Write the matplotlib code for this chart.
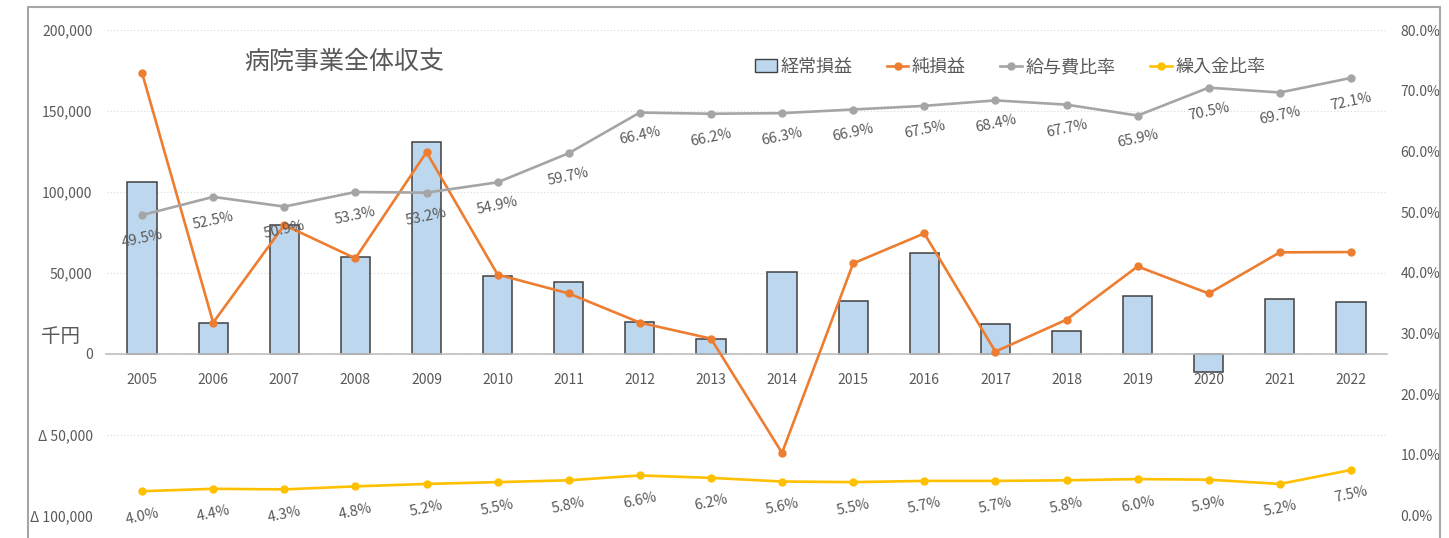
import matplotlib.pyplot as plt
import matplotlib.patches as mpatches
from matplotlib.lines import Line2D
from matplotlib.ticker import FuncFormatter, PercentFormatter
import numpy as np

plt.rcParams['font.family'] = ['Noto Sans CJK JP', 'DejaVu Sans']

# データ (千円 / 比率)
years = ["2005", "2006", "2007", "2008", "2009", "2010", "2011", "2012", "2013",
         "2014", "2015", "2016", "2017", "2018", "2019", "2020", "2021", "2022"]
keijo = [106000, 19200, 79300, 59500, 130700, 48300, 44000, 19800, 9300,
         50200, 32800, 62000, 18600, 14300, 35900, -11100, 33500, 32200]
jun = [173500, 19200, 79500, 58900, 124500, 48900, 37200, 19200, 9300,
       -61300, 55800, 74300, 1300, 21000, 53900, 37200, 62600, 62800]
kyuyo = [49.5, 52.5, 50.9, 53.3, 53.2, 54.9, 59.7, 66.4, 66.2,
         66.3, 66.9, 67.5, 68.4, 67.7, 65.9, 70.5, 69.7, 72.1]
kurire = [4.0, 4.4, 4.3, 4.8, 5.2, 5.5, 5.8, 6.6, 6.2,
          5.6, 5.5, 5.7, 5.7, 5.8, 6.0, 5.9, 5.2, 7.5]

txt = "#595959"
cBar = "#BDD7EE"
cOrange = "#ED7D31"
cGray = "#A5A5A5"
cYellow = "#FFC000"

fig = plt.figure(figsize=(14.49, 5.38), dpi=100)
ax = fig.add_axes([106.5 / 1449, 22.5 / 538, 1280 / 1449, 485.5 / 538])
x = np.arange(len(years))

# 棒グラフ・純損益 (左軸)
ax.bar(x, keijo, width=0.41, color=cBar, edgecolor="#404040", linewidth=1.1, zorder=2)
ax.plot(x, jun, color=cOrange, lw=1.9, marker="o", ms=5, zorder=3)

ax.set_xlim(-0.5, len(years) - 0.5)
ax.set_ylim(-100000, 200000)
ax.set_yticks([-100000, -50000, 0, 50000, 100000, 150000, 200000])
ax.yaxis.set_major_formatter(FuncFormatter(
    lambda v, p: f"{v:,.0f}" if v >= 0 else f"Δ {abs(v):,.0f}"))
ax.set_xticks(x)
ax.set_xticklabels(years)
ax.tick_params(axis="x", length=0, pad=14, labelsize=10, labelcolor=txt)
ax.tick_params(axis="y", length=0, pad=10, labelsize=10, labelcolor=txt)
ax.yaxis.grid(True, linestyle=(0, (1, 2)), color="#d9d9d9", lw=0.8)
ax.set_axisbelow(True)
for s in ["top", "left", "right"]:
    ax.spines[s].set_visible(False)
ax.spines["bottom"].set_position(("data", 0))
ax.spines["bottom"].set_color("#bfbfbf")
ax.spines["bottom"].set_linewidth(1.2)

# 比率 (右軸)
ax2 = ax.twinx()
ax2.plot(x, kyuyo, color=cGray, lw=1.9, marker="o", ms=5, zorder=3)
ax2.plot(x, kurire, color=cYellow, lw=1.9, marker="o", ms=5, zorder=3)
ax2.set_ylim(0, 80)
ax2.set_yticks(np.arange(0, 81, 10))
ax2.yaxis.set_major_formatter(PercentFormatter(decimals=1))
ax2.tick_params(axis="y", length=0, pad=10, labelsize=10, labelcolor=txt)
for s in ax2.spines.values():
    s.set_visible(False)

# データラベル
for i in range(len(years)):
    ax2.annotate(f"{kyuyo[i]:.1f}%", (x[i], kyuyo[i]), xytext=(0, -17),
                 textcoords="offset points", ha="center", va="center",
                 rotation=12, fontsize=10.5, color=txt)
    ax2.annotate(f"{kurire[i]:.1f}%", (x[i], kurire[i]), xytext=(0, -18),
                 textcoords="offset points", ha="center", va="center",
                 rotation=12, fontsize=10.5, color=txt)

# タイトル・単位
ax.text(0.186, 0.934, "病院事業全体収支", transform=ax.transAxes, ha="center",
        va="center", fontsize=18, color=txt)
fig.text(61 / 1449, 1 - 337 / 538, "千円", ha="center", va="center",
         fontsize=14, color=txt)

# 凡例
handles = [
    mpatches.Patch(facecolor=cBar, edgecolor="#404040", linewidth=1.0),
    Line2D([], [], color=cOrange, lw=1.9, marker="o", ms=5),
    Line2D([], [], color=cGray, lw=1.9, marker="o", ms=5),
    Line2D([], [], color=cYellow, lw=1.9, marker="o", ms=5),
]
labels = ["経常損益", "純損益", "給与費比率", "繰入金比率"]
leg = ax2.legend(handles, labels, ncol=4, loc="center", bbox_to_anchor=(0.706, 0.924),
                 frameon=False, fontsize=13, handlelength=1.2, handletextpad=0.2,
                 columnspacing=1.9)
for t in leg.get_texts():
    t.set_color(txt)

# 外枠
fig.patches.append(mpatches.Rectangle((28 / 1449, -0.05), 1412 / 1449, 1.05 - 7 / 538,
                                      transform=fig.transFigure, fill=False,
                                      edgecolor="#a6a6a6", lw=1.5, clip_on=False))

fig.savefig("out.png", dpi=100)
